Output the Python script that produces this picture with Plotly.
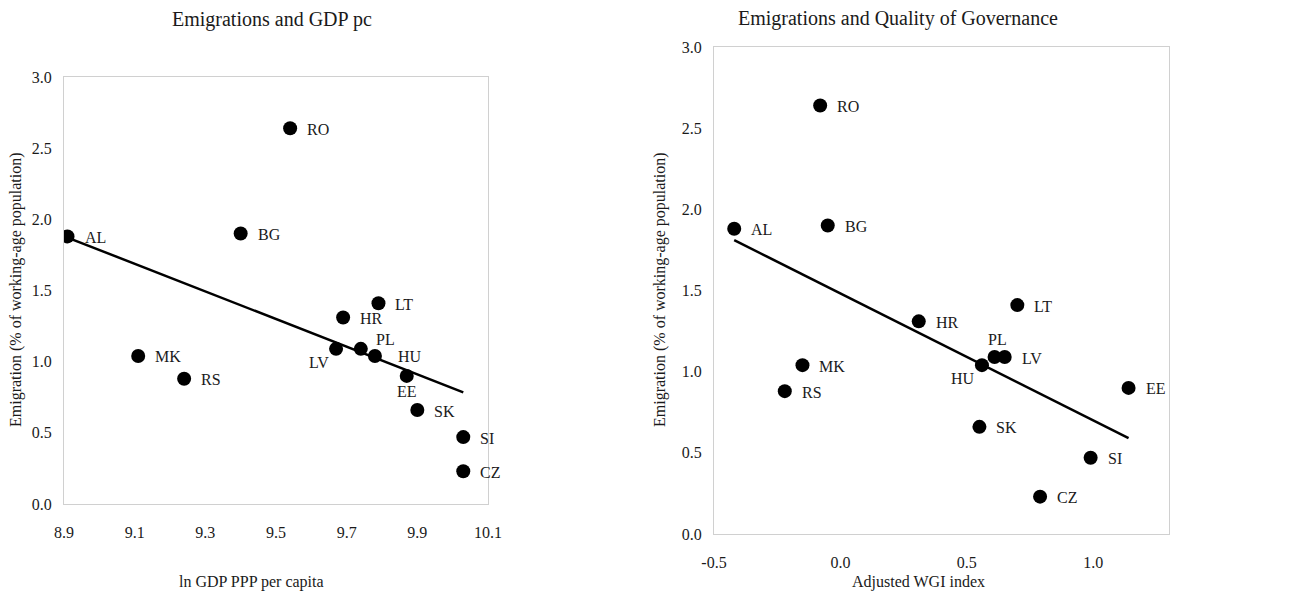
import numpy as np
import plotly.graph_objects as go

# Emigration (% of working-age population) by country
countries = ["AL", "BG", "RO", "LT", "HR", "PL", "LV", "HU", "EE", "SK", "SI", "CZ", "MK", "RS"]
emigration = [1.88, 1.90, 2.64, 1.41, 1.31, 1.09, 1.09, 1.04, 0.90, 0.66, 0.47, 0.23, 1.04, 0.88]
ln_gdp = [8.91, 9.40, 9.54, 9.79, 9.69, 9.74, 9.67, 9.78, 9.87, 9.90, 10.03, 10.03, 9.11, 9.24]
wgi = [-0.42, -0.05, -0.08, 0.70, 0.31, 0.61, 0.65, 0.56, 1.14, 0.55, 0.99, 0.79, -0.15, -0.22]

y_ticks = [0.0, 0.5, 1.0, 1.5, 2.0, 2.5, 3.0]
x1_ticks = [8.9, 9.1, 9.3, 9.5, 9.7, 9.9, 10.1]
x2_ticks = [-0.5, 0.0, 0.5, 1.0]

FONT = "Liberation Serif"
TXT = "#1a1a1a"

W, H = 1300, 596


def fx(px):
    return px / W


def fy(py):
    return 1 - py / H


# label placement: (xshift, yshift, anchor) relative to marker centre
DEFAULT_OFF = (15, -1, "left")
LEFT_OFF = {"LV": (-5, -14, "right"), "PL": (13, 9, "left"), "EE": (0, -16, "center"),
            "HU": (21, -1, "left")}
RIGHT_OFF = {"PL": (3, 18, "center"), "HU": (-5, -13, "right")}


def trend(x, y):
    b, a = np.polyfit(x, y, 1)
    xs = np.array([min(x), max(x)])
    return xs, a + b * xs


fig = go.Figure()

for x, xa, ya, offs in [(ln_gdp, "x", "y", LEFT_OFF), (wgi, "x2", "y2", RIGHT_OFF)]:
    tx, ty = trend(x, emigration)
    fig.add_trace(go.Scatter(x=tx, y=ty, mode="lines", xaxis=xa, yaxis=ya,
                             line=dict(color="black", width=2.5), showlegend=False))
    fig.add_trace(go.Scatter(x=x, y=emigration, mode="markers", xaxis=xa, yaxis=ya,
                             marker=dict(color="black", size=14), showlegend=False))
    for c, xv, yv in zip(countries, x, emigration):
        dx, dy, anc = offs.get(c, DEFAULT_OFF)
        fig.add_annotation(x=xv, y=yv, xref=xa, yref=ya, text=c, showarrow=False,
                           xanchor=anc, xshift=dx, yshift=dy,
                           font=dict(family=FONT, size=16, color=TXT))

axis_common = dict(showgrid=False, zeroline=False, showline=True, mirror=True,
                   linecolor="#d0d0d0", linewidth=1, ticks="", automargin=False,
                   tickfont=dict(family=FONT, size=16, color=TXT))

fig.update_layout(
    width=W, height=H,
    margin=dict(l=0, r=0, t=0, b=0, autoexpand=False),
    paper_bgcolor="white", plot_bgcolor="white",
    xaxis=dict(domain=[fx(64), fx(488)], range=[8.9, 10.1], tickvals=x1_ticks,
               ticktext=[f"{v:.1f}" for v in x1_ticks], anchor="y", ticklabelstandoff=14,
               **axis_common),
    yaxis=dict(domain=[fy(504), fy(77)], range=[0, 3], tickvals=y_ticks,
               ticktext=[f"{v:.1f}" for v in y_ticks], anchor="x", ticklabelstandoff=8,
               **axis_common),
    xaxis2=dict(domain=[fx(714), fx(1169)], range=[-0.5, 1.3], tickvals=x2_ticks,
                ticktext=[f"{v:.1f}" for v in x2_ticks], anchor="y2", ticklabelstandoff=14,
                **axis_common),
    yaxis2=dict(domain=[fy(534), fy(47)], range=[0, 3], tickvals=y_ticks,
                ticktext=[f"{v:.1f}" for v in y_ticks], anchor="x2", ticklabelstandoff=8,
                **axis_common),
)

titles = [
    ("Emigrations and GDP pc", 272, 19, 0, 20),
    ("Emigrations and Quality of Governance", 898, 18, 0, 20),
    ("ln GDP PPP per capita", 251, 582, 0, 16),
    ("Adjusted WGI index", 918, 582, 0, 16),
    ("Emigration (% of working-age population)", 16, 290, -90, 16),
    ("Emigration (% of working-age population)", 660, 290, -90, 16),
]
for text, px, py, ang, sz in titles:
    fig.add_annotation(x=fx(px), y=fy(py), xref="paper", yref="paper", text=text,
                       showarrow=False, textangle=ang, xanchor="center", yanchor="middle",
                       font=dict(family=FONT, size=sz, color=TXT))

# drop the browser's default 8px body margin so the figure fills the window
fig.write_html("out.html", config={"displayModeBar": False},
               post_script="document.body.style.margin='0';")
